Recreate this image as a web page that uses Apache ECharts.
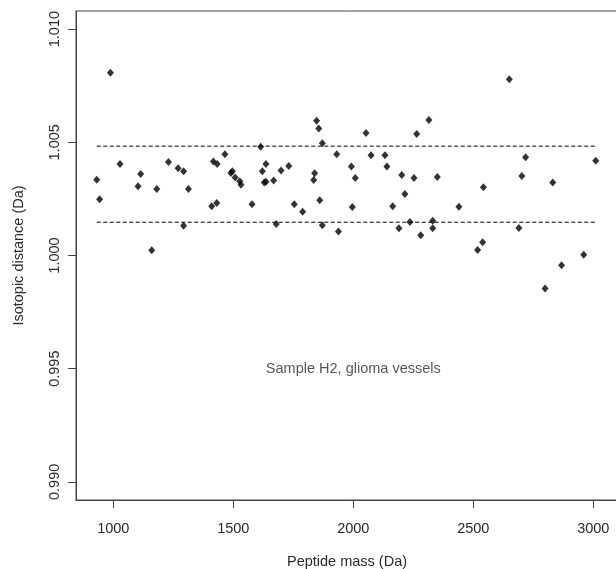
<!DOCTYPE html>
<html>
<head>
<meta charset="utf-8">
<script src="https://cdn.jsdelivr.net/npm/echarts@6/dist/echarts.min.js"></script>
<style>
html,body{margin:0;padding:0;background:#fff;}
#chart{width:616px;height:569px;}
</style>
</head>
<body>
<div id="chart"></div>
<script>
// Peptide mass (Da)
var peptideMass = [931, 943, 988, 1028, 1103, 1114, 1160, 1181, 1230, 1270, 1293, 1293, 1313, 1410, 1417, 1431, 1433, 1465, 1490, 1496, 1508, 1527, 1532, 1578, 1614, 1621, 1629, 1636, 1636, 1668, 1679, 1699, 1731, 1754, 1789, 1835, 1839, 1847, 1856, 1860, 1871, 1871, 1931, 1938, 1992, 1996, 2008, 2053, 2074, 2132, 2140, 2164, 2190, 2202, 2215, 2236, 2253, 2264, 2281, 2315, 2331, 2331, 2350, 2440, 2518, 2539, 2542, 2650, 2690, 2702, 2718, 2799, 2831, 2868, 2960, 3010];
// Isotopic distance (Da)
var isotopicDistance = [1.00335, 1.00248, 1.00807, 1.00404, 1.00306, 1.00360, 1.00023, 1.00294, 1.00413, 1.00385, 1.00372, 1.00131, 1.00294, 1.00218, 1.00415, 1.00232, 1.00404, 1.00447, 1.00364, 1.00372, 1.00344, 1.00328, 1.00313, 1.00226, 1.00480, 1.00372, 1.00322, 1.00326, 1.00404, 1.00331, 1.00139, 1.00376, 1.00395, 1.00226, 1.00193, 1.00333, 1.00363, 1.00595, 1.00561, 1.00244, 1.00496, 1.00134, 1.00447, 1.00106, 1.00393, 1.00214, 1.00342, 1.00541, 1.00443, 1.00443, 1.00393, 1.00218, 1.00120, 1.00356, 1.00272, 1.00148, 1.00342, 1.00537, 1.00090, 1.00599, 1.00153, 1.00120, 1.00347, 1.00215, 1.00024, 1.00058, 1.00301, 1.00778, 1.00122, 1.00351, 1.00434, 0.99854, 1.00323, 0.99957, 1.00003, 1.00418];
// Reference band limits and their extent
var upperLimit = 1.00483;
var lowerLimit = 1.00147;
var limitExtent = [931, 3010];
// Tick labels
var xTicks = [1000, 1500, 2000, 2500, 3000];
var yTicks = [0.990, 0.995, 1.000, 1.005, 1.010];
// Annotation
var noteText = 'Sample H2, glioma vessels';
var notePos = [2000, 0.995];

var FONT = '"Liberation Sans", Arial, sans-serif';
var TXT = '#2a2a2a';
var AX = '#444';

var points = peptideMass.map(function (m, i) { return [m, isotopicDistance[i]]; });

var chart = echarts.init(document.getElementById('chart'), null, {renderer: 'canvas'});
chart.setOption({
  animation: false,
  backgroundColor: '#fff',
  grid: {left: 76, right: -2, top: 11, bottom: 69, show: true, borderColor: AX, borderWidth: 1,
    backgroundColor: 'transparent', containLabel: false, outerBoundsMode: 'none'},
  xAxis: {
    type: 'value', min: 844.6, max: 3102.9,
    name: 'Peptide mass (Da)', nameLocation: 'middle', nameGap: 54,
    nameTextStyle: {fontFamily: FONT, fontSize: 14.5, color: TXT},
    axisLine: {show: true, lineStyle: {color: AX, width: 1}},
    axisTick: {show: true, length: 8, inside: false, customValues: xTicks, lineStyle: {color: AX}},
    axisLabel: {show: true, customValues: xTicks, margin: 21, fontFamily: FONT, fontSize: 14.5, color: TXT,
      formatter: function (v) { return String(Math.round(v)); }},
    splitLine: {show: false}
  },
  yAxis: {
    type: 'value', min: 0.9892, max: 1.0108,
    name: 'Isotopic distance (Da)', nameLocation: 'middle', nameGap: 50, nameRotate: 90,
    nameTextStyle: {fontFamily: FONT, fontSize: 14.5, color: TXT},
    axisLine: {show: true, lineStyle: {color: AX, width: 1}},
    axisTick: {show: true, length: 8, inside: false, customValues: yTicks, lineStyle: {color: AX}},
    axisLabel: {show: true, customValues: yTicks, rotate: 90, margin: 14, align: 'center', verticalAlign: 'bottom',
      fontFamily: FONT, fontSize: 14.5, color: TXT,
      formatter: function (v) { return v.toFixed(3); }},
    splitLine: {show: false}
  },
  series: [
    {
      type: 'scatter', data: points, symbol: 'diamond', symbolSize: [7, 8],
      itemStyle: {color: '#000'}, silent: true, z: 3
    },
    {
      type: 'line', data: [[limitExtent[0], upperLimit], [limitExtent[1], upperLimit]],
      symbol: 'none', lineStyle: {color: '#000', width: 1, type: [4, 2.5]}, silent: true, z: 2
    },
    {
      type: 'line', data: [[limitExtent[0], lowerLimit], [limitExtent[1], lowerLimit]],
      symbol: 'none', lineStyle: {color: '#000', width: 1, type: [4, 2.5]}, silent: true, z: 2
    },
    {
      type: 'scatter', data: [notePos], symbolSize: 1, itemStyle: {color: 'rgba(0,0,0,0)'}, silent: true,
      label: {show: true, position: 'inside', formatter: noteText, fontFamily: FONT, fontSize: 14.5, color: TXT}
    }
  ]
});
</script>
</body>
</html>
